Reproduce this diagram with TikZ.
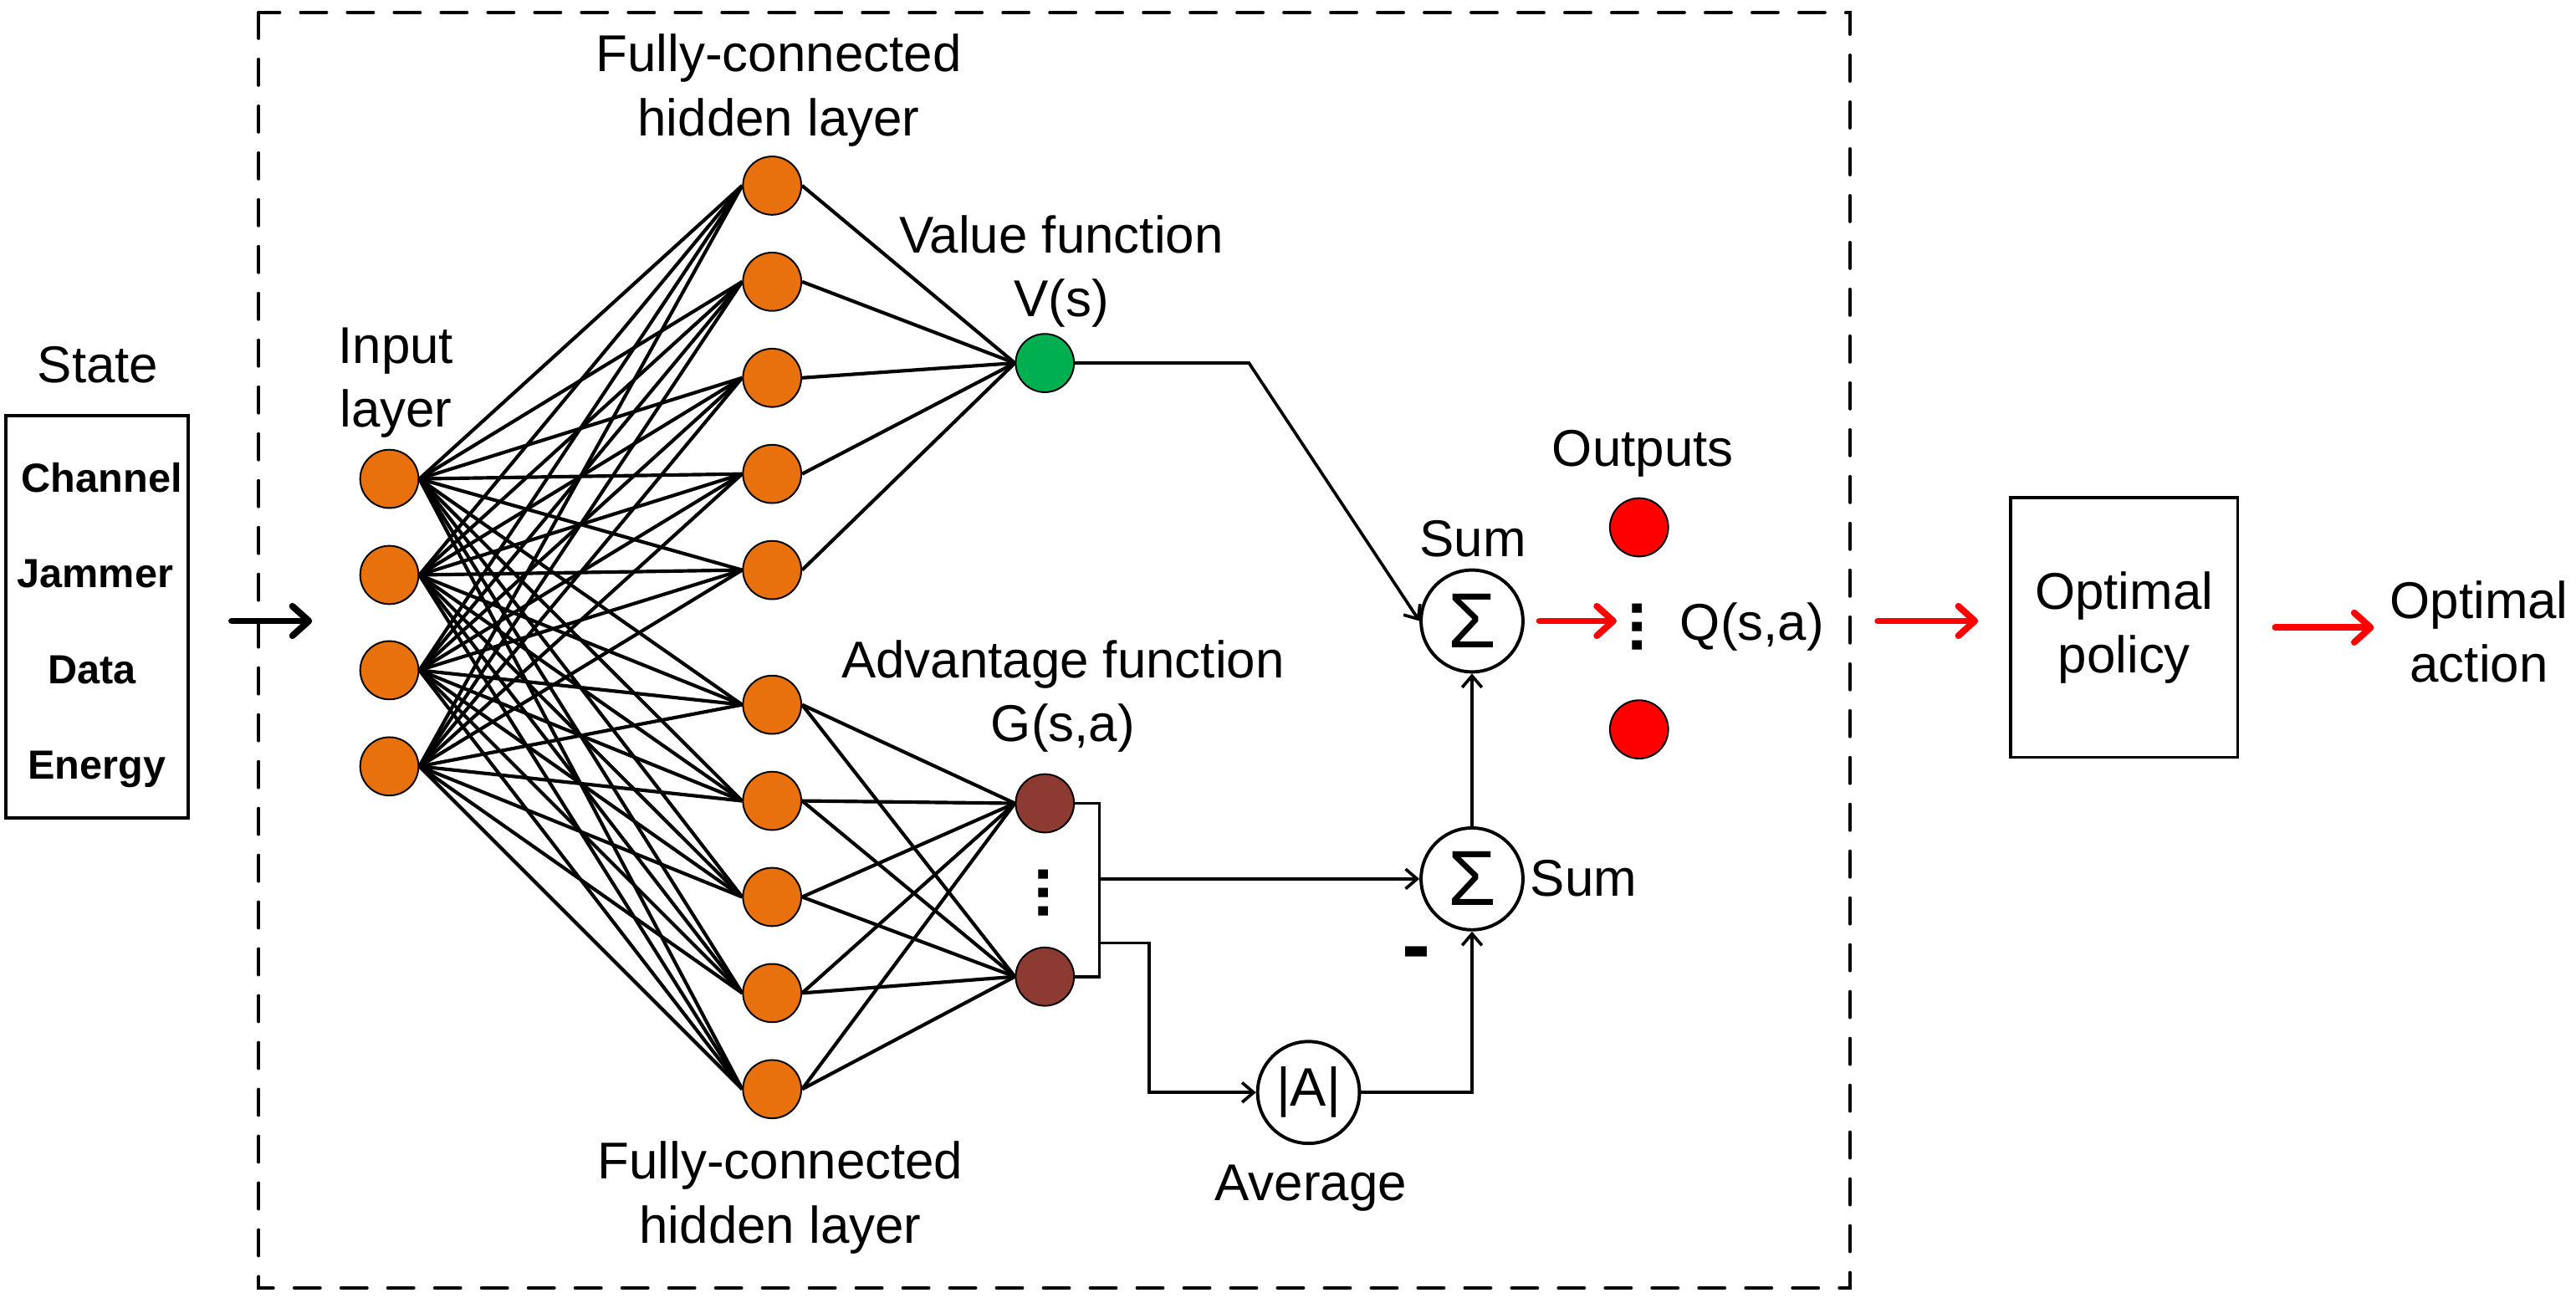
\documentclass[tikz,border=0pt]{standalone}
\usepackage{fontspec}
\setmainfont{Liberation Sans}
\usepackage{tikz}
\usetikzlibrary{arrows.meta}

\definecolor{hidorange}{RGB}{232,113,14}
\definecolor{valgreen}{RGB}{0,176,80}
\definecolor{advbrown}{RGB}{140,58,50}
\definecolor{outred}{RGB}{255,0,0}

\tikzset{
  layernode/.style={circle, draw, fill=hidorange, line width=0.4pt, inner sep=0pt, minimum size=14.2pt},
  valnode/.style={layernode, fill=valgreen},
  advnode/.style={layernode, fill=advbrown},
  outnode/.style={layernode, fill=outred},
  sumnode/.style={circle, draw, line width=0.8pt, inner sep=0pt, minimum size=24.8pt, font=\fontsize{19}{19}\selectfont},
  boxnode/.style={draw, line width=0.75pt, inner sep=0pt},
  txt/.style={font=\fontsize{12.6}{15.5}\selectfont, align=center, inner sep=0pt},
  boldtxt/.style={font=\fontsize{9.9}{12}\selectfont\bfseries, inner sep=0pt},
  dotstxt/.style={font=\fontsize{16}{16}\selectfont\bfseries, inner sep=0pt, rotate=90},
  wire/.style={line width=0.85pt},
  flow/.style={line width=0.75pt, -{Straight Barb[length=2.8pt,width=4.8pt]}},
  bigflow/.style={line width=1.6pt, line cap=round, -{Straight Barb[length=4pt,width=7.2pt,round]}},
  frame/.style={line width=0.8pt, line cap=round, dash pattern=on 6.3pt off 5.1pt}
}

\begin{document}
\begin{tikzpicture}[x=0.4pt,y=0.4pt,yscale=-1,xscale=1]
\useasboundingbox (0,0) rectangle (1568,790);

% Dashed frame round the network
\draw[frame] (157.5,7.6) rectangle (1126,784);

% State
\node[txt, anchor=base] (statelbl) at (59.6,232.7) {State};
\node[boxnode, minimum width=44.4pt, minimum height=98pt] (statebox) at (59,375.5) {};
\node[boldtxt, anchor=base] (channel) at (62,299.5) {Channel};
\node[boldtxt, anchor=base] (jammer) at (58,357.5) {Jammer};
\node[boldtxt, anchor=base] (data) at (56,416) {Data};
\node[boldtxt, anchor=base] (energy) at (59,474) {Energy};

% Input layer
\node[txt] (inlbl) at (241,233) {Input\\layer};
\foreach \i/\y in {1/291.5,2/350,3/408,4/466.5}
  \node[layernode] (in\i) at (237,\y) {};

% Hidden layers
\node[txt] (hidtoplbl) at (474,55) {Fully-connected\\hidden layer};
\node[txt] (hidbotlbl) at (475,729) {Fully-connected\\hidden layer};
\foreach \i in {1,...,5}
  \node[layernode] (hid\i) at (470,{113+58.5*(\i-1)}) {};
\foreach \i in {6,...,10}
  \node[layernode] (hid\i) at (470,{429+58.5*(\i-6)}) {};

% Value and advantage streams
\node[txt] (vallbl) at (646,165.4) {Value function\\V(s)};
\node[valnode] (vnode) at (636,221) {};
\node[txt] (advlbl) at (647,423.7) {Advantage function\\G(s,a)};
\node[advnode] (g1) at (636,489) {};
\node[advnode] (g2) at (636,594.5) {};
\node[dotstxt] (gdots) at (635,543.5) {...};

% Aggregation
\node[sumnode] (sumQ) at (896,378) {Σ};
\node[txt, anchor=base] (sumQlbl) at (896.5,338.6) {Sum};
\node[sumnode] (sumA) at (896,535) {Σ};
\node[txt, anchor=base] (sumAlbl) at (964,545.5) {Sum};
\node[sumnode, font=\fontsize{13.2}{13.2}\selectfont] (avg) at (796.5,665) {|A|};
\node[txt, anchor=base] (avglbl) at (798,730.6) {Average};
\node[font=\fontsize{20.8}{20.8}\selectfont\bfseries, inner sep=0pt, anchor=base] (minus) at (862,593) {-};

% Outputs
\node[txt, anchor=base] (outlbl) at (1000,284) {Outputs};
\node[outnode] (q1) at (997.7,321) {};
\node[outnode] (q2) at (997.7,444) {};
\node[dotstxt] (qdots) at (996.5,381.5) {...};
\node[txt, anchor=base] (qlbl) at (1066.5,389.5) {Q(s,a)};

% Policy and action
\node[boxnode, txt, minimum width=55.2pt, minimum height=63.2pt] (policy) at (1293,382) {Optimal\\policy};
\node[txt] (actlbl) at (1509,384.4) {Optimal\\action};

% Free arrow ends
\coordinate (stateout) at (141,378);
\coordinate (netin) at (190,378);
\coordinate (qtip) at (984,378);
\coordinate (qout) at (1143,378);
\coordinate (acttip) at (1445,382);
\coordinate (brmid) at (669,535);
\coordinate (brlow) at (669,574);

% Connections
\foreach \i in {1,...,4}
  \foreach \j in {1,...,10}
    \draw[wire] (in\i.east) -- (hid\j.west);
\foreach \j in {1,...,5}
  \draw[wire] (hid\j.east) -- (vnode.west);
\foreach \j in {6,...,10}
  \foreach \k in {1,2}
    \draw[wire] (hid\j.east) -- (g\k.west);

\draw[flow, -] (g1.east) -- ++(15,0) |- (g2.east);
\draw[flow] (vnode.east) -- ++(106,0) -- (sumQ.west);
\draw[flow] (brmid) -- (sumA.west);
\draw[flow] (brlow) -- ++(30.5,0) |- (avg.west);
\draw[flow] (avg.east) -| (sumA.south);
\draw[flow] (sumA.north) -- (sumQ.south);

\draw[bigflow] (stateout) -- (netin);
\draw[bigflow, outred, shorten <=3.6pt] (sumQ.east) -- (qtip);
\draw[bigflow, outred, shorten >=7.6pt] (qout) -- (qout -| policy.west);
\draw[bigflow, outred, shorten <=8.8pt] (policy.east) -- (acttip);

\end{tikzpicture}
\end{document}
